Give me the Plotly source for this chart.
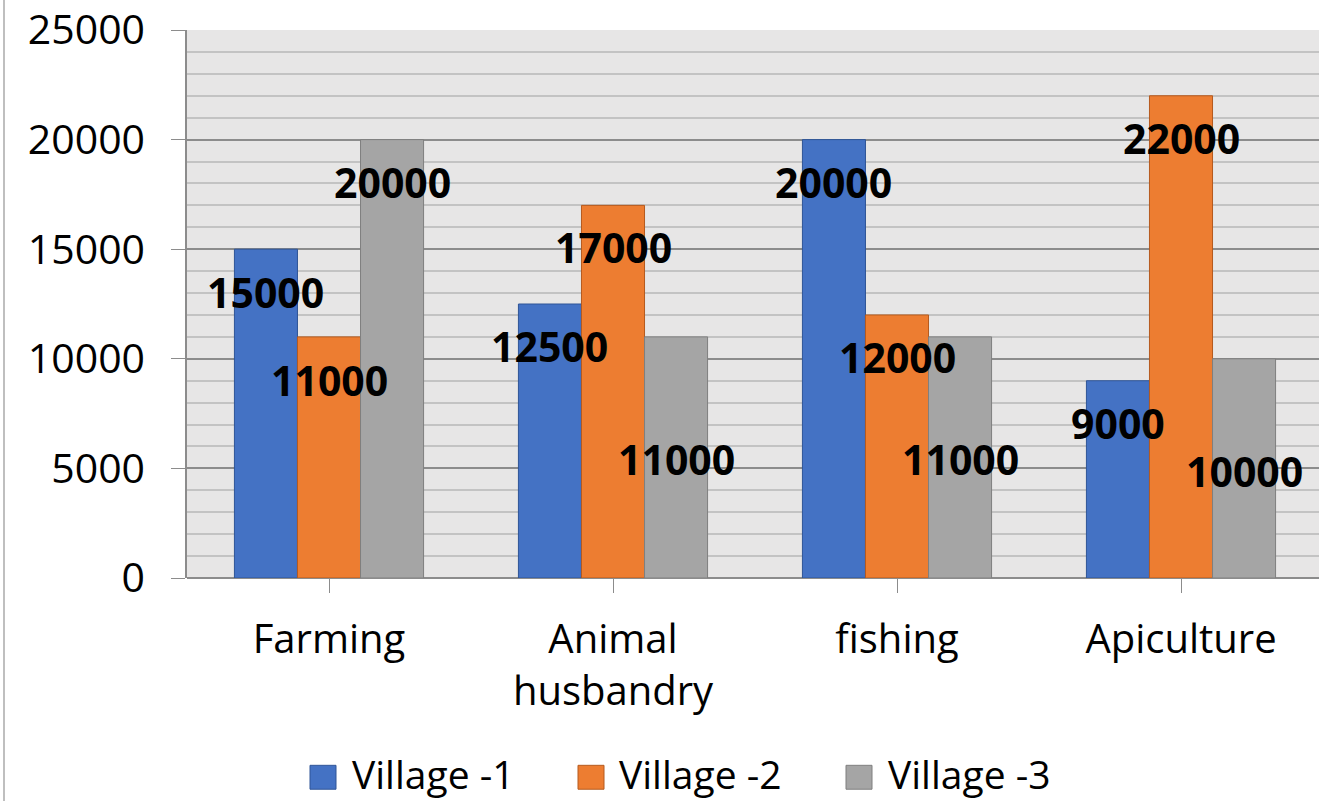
import plotly.graph_objects as go

categories = ["Farming", "Animal<br>husbandry", "fishing", "Apiculture"]
series_names = ["Village -1", "Village -2", "Village -3"]
village1 = [15000, 12500, 20000, 9000]
village2 = [11000, 17000, 12000, 22000]
village3 = [20000, 11000, 11000, 10000]
y_ticks = [0, 5000, 10000, 15000, 20000, 25000]

colors = ["#4472C4", "#ED7D31", "#A5A5A5"]
edge_colors = ["#2F5597", "#B55A1E", "#7F7F7F"]
# vertical pixel offset of each data label below the bar top
label_shift = [
    [-43, -42, -42, -42],
    [-43, -42, -42, -42],
    [-42, -122, -122, -112],
]

W, H = 1319, 801
L, R, T, B = 187, 0, 28, 223
pw, ph = W - L - R, H - T - B
bargap = 0.334
FONT = "Open Sans"

fig = go.Figure()
all_series = [village1, village2, village3]
for j, (name, vals) in enumerate(zip(series_names, all_series)):
    fig.add_trace(go.Bar(
        x=list(range(len(categories))), y=vals, name=name,
        marker=dict(color=colors[j], line=dict(color=edge_colors[j], width=1)),
        showlegend=False, hoverinfo="skip",
    ))

bw = (1 - bargap) / 3
annotations = []
for j, vals in enumerate(all_series):
    for i, v in enumerate(vals):
        annotations.append(dict(
            x=i + (j - 1) * bw, y=v, xref="x", yref="y",
            text=f"<b>{v}</b>", showarrow=False,
            yshift=label_shift[j][i], xanchor="center", yanchor="middle",
            font=dict(family=FONT, size=41, color="#000000"),
        ))

# legend (drawn as squares + text at the bottom)
sq_left = [310, 578, 846]
txt_left = [350, 617, 886]
leg_y = 778
shapes = []
for j, name in enumerate(series_names):
    shapes.append(dict(
        type="rect", xref="paper", yref="paper",
        x0=(sq_left[j] - L) / pw, x1=(sq_left[j] + 26 - L) / pw,
        y0=(T + ph - (leg_y + 12)) / ph, y1=(T + ph - (leg_y - 12)) / ph,
        fillcolor=colors[j], line=dict(color=edge_colors[j], width=1),
    ))
    annotations.append(dict(
        x=(txt_left[j] - L) / pw, y=(T + ph - (leg_y - 4)) / ph,
        xref="paper", yref="paper", text=name, showarrow=False,
        xanchor="left", yanchor="middle",
        font=dict(family=FONT, size=39, color="#000000"),
    ))

# chart-area left border
shapes.append(dict(
    type="line", xref="paper", yref="paper",
    x0=(4 - L) / pw, x1=(4 - L) / pw, y0=-(B) / ph - 0.01, y1=(ph + T) / ph + 0.01,
    line=dict(color="#BFBFBF", width=2),
))

fig.update_layout(
    width=W, height=H,
    margin=dict(l=L, r=R, t=T, b=B),
    barmode="group", bargap=bargap, bargroupgap=0,
    paper_bgcolor="#FFFFFF", plot_bgcolor="#E7E6E6",
    font=dict(family=FONT, size=41, color="#000000"),
    annotations=annotations, shapes=shapes,
    showlegend=False,
)
fig.update_xaxes(
    tickmode="array", tickvals=list(range(len(categories))), ticktext=categories,
    range=[-0.5, -0.5 + pw / 284.0],
    tickson="boundaries", ticks="outside", ticklen=14, tickcolor="#8C8C8C",
    showgrid=False, zeroline=False, showline=False,
    tickfont=dict(family=FONT, size=40, color="#000000"),
    ticklabelstandoff=12, ticklabeloverflow="allow",
)
fig.update_yaxes(
    range=[0, 25000], tickmode="array", tickvals=y_ticks,
    ticktext=[str(t) for t in y_ticks],
    ticks="outside", ticklen=14, tickcolor="#8C8C8C",
    showline=True, linecolor="#8C8C8C", linewidth=1.5,
    showgrid=True, gridcolor="#8C8C8C", gridwidth=1.5,
    zeroline=True, zerolinecolor="#8C8C8C", zerolinewidth=1.5,
    minor=dict(dtick=1000, showgrid=True, gridcolor="#C3C3C3", gridwidth=1.5),
    tickfont=dict(family=FONT, size=41, color="#000000"),
    ticklabelstandoff=18, ticklabeloverflow="allow",
)

fig.write_html(
    "out.html",
    config={"displayModeBar": False},
    post_script="document.body.style.margin='0';document.body.style.overflow='hidden';",
)
